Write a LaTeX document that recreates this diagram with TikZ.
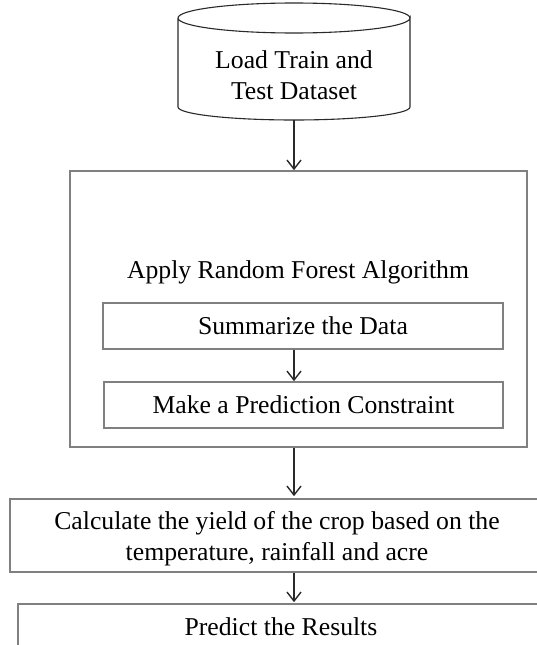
\documentclass[tikz,border=0pt]{standalone}
\usepackage{fontspec}
\setmainfont{Liberation Serif}
\usetikzlibrary{arrows.meta}
\definecolor{boxgray}{HTML}{808080}
\definecolor{arrowgray}{HTML}{2A2A2A}
\tikzset{
  box/.style={draw=boxgray, line width=1.6pt, rectangle, inner sep=0pt, align=center},
  txt/.style={inner sep=0pt, align=center, font=\fontsize{25.7}{31}\selectfont},
  flow/.style={draw=arrowgray, line width=1.4pt, -{Straight Barb[length=9pt,width=14pt,line width=1.4pt]}}
}
\begin{document}
\begin{tikzpicture}[x=1pt,y=-1pt]
\useasboundingbox (0,0) rectangle (537,645);
\clip (0,0) rectangle (537,645);
\fill[white] (0,0) rectangle (537,645);
% cylinder
\draw[draw=arrowgray, line width=1.1pt, fill=white]
  (178,18) -- (178,107) arc[start angle=180, end angle=0, x radius=116, y radius=13]
  -- (410,18) arc[start angle=0, end angle=180, x radius=116, y radius=15];
\draw[draw=arrowgray, line width=1.1pt]
  (178,18) arc[start angle=180, end angle=360, x radius=116, y radius=15];
\node[txt] (ds) at (294,75) {Load Train and\\Test Dataset};
\coordinate (dsb) at (294,120);
% big box
\node[box, minimum width=457pt, minimum height=276pt] (rf) at (298.5,309) {};
\node[txt] (rft) at (298,272) {Apply Random Forest Algorithm};
\node[box, minimum width=400pt, minimum height=46pt, font=\fontsize{25.7}{31}\selectfont] (sum) at (303,326) {Summarize the Data};
\node[box, minimum width=399pt, minimum height=46pt, font=\fontsize{25.7}{31}\selectfont] (pc) at (303.5,405) {Make a Prediction Constraint};
% calc box
\node[box, minimum width=534pt, minimum height=73pt] (calc) at (277,535.5) {};
\node[txt] (calct) at (277,539) {Calculate the yield of the crop based on the\\temperature, rainfall and acre};
% predict box
\node[box, minimum width=526pt, minimum height=50pt] (res) at (281,629) {};
\node[txt] (rest) at (281,627) {Predict the Results};
% arrows
\coordinate (ax) at (294,0);
\draw[flow] (dsb) -- (rf.north -| dsb);
\draw[flow] (sum.south -| ax) -- (pc.north -| ax);
\draw[flow] (rf.south -| ax) -- ([yshift=2pt]calc.north -| ax);
\draw[flow] (calc.south -| ax) -- ([yshift=1pt]res.north -| ax);
\end{tikzpicture}
\end{document}
